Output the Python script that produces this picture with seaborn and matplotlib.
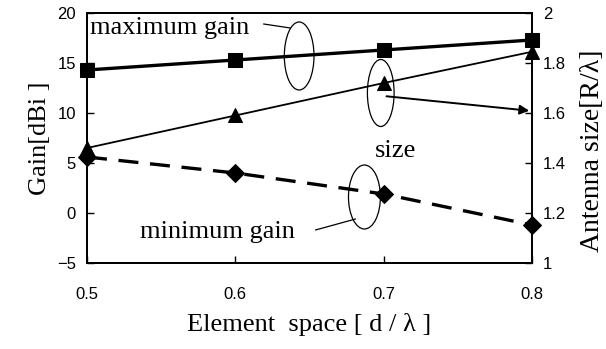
import numpy as np
import pandas as pd
import matplotlib
matplotlib.use("Agg")
import matplotlib.pyplot as plt
from matplotlib.patches import Ellipse, FancyArrowPatch
import seaborn as sns

element_space = [0.5, 0.6, 0.7, 0.8]
max_gain = [14.3, 15.3, 16.3, 17.3]
min_gain = [5.6, 4.0, 1.9, -1.2]
antenna_size = [1.46, 1.59, 1.72, 1.845]
x_ticks = [0.5, 0.6, 0.7, 0.8]
left_ticks = [-5, 0, 5, 10, 15, 20]
right_ticks = [1, 1.2, 1.4, 1.6, 1.8, 2]
right_tick_labels = ["1", "1.2", "1.4", "1.6", "1.8", "2"]

sns.set_theme(style="ticks")
plt.rcParams["font.family"] = ["Liberation Sans", "DejaVu Sans"]

df = pd.DataFrame({"x": element_space, "maxg": max_gain, "ming": min_gain, "size": antenna_size})

fig = plt.figure(figsize=(6.06, 3.49), dpi=100)
ax = fig.add_axes([0.1436, 0.2464, 0.878 - 0.1436, 0.9628 - 0.2464])
ax2 = ax.twinx()

sns.lineplot(data=df, x="x", y="maxg", ax=ax, color="black", lw=2.4,
             marker="s", markersize=9.5, markeredgecolor="black", clip_on=False)
sns.lineplot(data=df, x="x", y="ming", ax=ax, color="black", lw=2.4,
             marker="D", markersize=9.5, markeredgecolor="black", clip_on=False,
             dashes=False, linestyle=(0, (6, 3.5)))
sns.lineplot(data=df, x="x", y="size", ax=ax2, color="black", lw=1.3,
             marker="^", markersize=9.5, markeredgecolor="black", clip_on=False)

ax.set_xlim(0.5, 0.8)
ax.set_ylim(-5, 20)
ax2.set_ylim(1, 2)
ax.set_xticks(x_ticks)
ax.set_xticklabels([str(v) for v in x_ticks])
ax.set_yticks(left_ticks)
ax.set_yticklabels(["\u22125" if v < 0 else str(v) for v in left_ticks])
ax2.set_yticks(right_ticks)
ax2.set_yticklabels(right_tick_labels)

for a in (ax, ax2):
    for s in a.spines.values():
        s.set_color("black")
        s.set_linewidth(1.3)
        s.set_visible(True)

ax.tick_params(axis="x", direction="in", length=5, width=1, pad=17, labelsize=12, colors="black")
ax.tick_params(axis="y", direction="in", length=5, width=1, pad=8, labelsize=12, colors="black")
ax2.tick_params(axis="y", direction="in", length=5, width=1, pad=8, labelsize=12, colors="black")

serif = ["Liberation Serif", "DejaVu Serif"]
ax.set_xlabel("Element  space [ d / \u03bb ]", family=serif, fontsize=19, labelpad=8, color="black")
ax.set_ylabel("Gain[dBi ]", family=serif, fontsize=19, labelpad=4, color="black")
ax2.set_ylabel("Antenna size[R/\u03bb]", family=serif, fontsize=20, color="black")
ax2.yaxis.set_label_coords(1.108, 0.45)

# annotations
ax.text(0.502, 18.5, "maximum gain", family=serif, fontsize=19, ha="left", va="center", color="black")
ax.text(0.708, 6.2, "size", family=serif, fontsize=19, ha="center", va="center", color="black")
ax.text(0.588, -1.9, "minimum gain", family=serif, fontsize=19, ha="center", va="center", color="black")

for (cx, cy, w, h) in [(0.643, 15.7, 0.020, 6.8), (0.698, 12.0, 0.018, 6.7), (0.687, 1.6, 0.0215, 6.4)]:
    ax.add_patch(Ellipse((cx, cy), w, h, fill=False, ec="black", lw=0.9))

ax.plot([0.619, 0.637], [18.9, 18.5], color="black", lw=0.9)
ax.plot([0.654, 0.681], [-1.7, -0.6], color="black", lw=0.9)
ax.add_patch(FancyArrowPatch((0.700, 11.7), (0.800, 10.2), arrowstyle="-|>", mutation_scale=14,
                             color="black", lw=1.4, clip_on=False))

fig.savefig("out.png", dpi=100)
